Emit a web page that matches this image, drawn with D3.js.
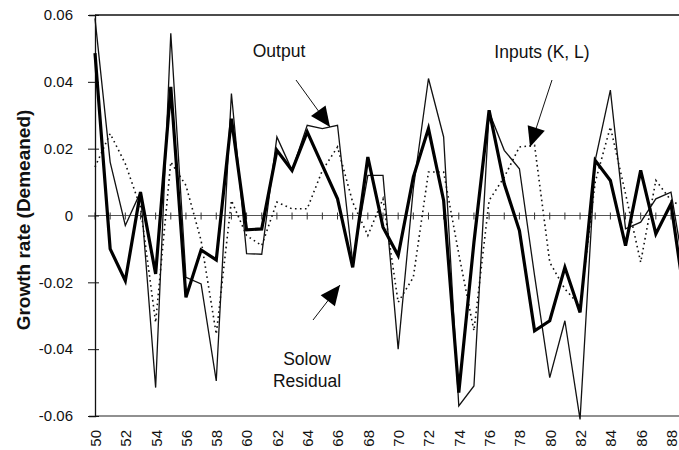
<!DOCTYPE html>
<html>
<head>
<meta charset="utf-8">
<script src="https://cdn.jsdelivr.net/npm/d3@7/dist/d3.min.js"></script>
<style>
  body { margin: 0; background: #fff; }
  svg { display: block; font-family: Arial, "Liberation Sans", Helvetica, sans-serif; }
  .lbl { font-size: 15px; fill: #111; }
  .note { font-size: 17.5px; fill: #111; }
</style>
</head>
<body>
<div id="chart"></div>
<script>
// data (years 1950-1989, demeaned growth rates)
const years = d3.range(50, 90);
const output = [0.059, 0.016, -0.003, 0.007, -0.0515, 0.0545, -0.0185, -0.0205, -0.0495, 0.0365,
                -0.0114, -0.0116, 0.0235, 0.0135, 0.027, 0.026, 0.027, -0.014, 0.012, 0.012,
                -0.040, 0.008, 0.041, 0.0235, -0.057, -0.051, 0.031, 0.0195, 0.014, -0.018,
                -0.0485, -0.0315, -0.061, 0.0165, 0.0375, -0.004, -0.002, 0.005, 0.007, -0.02];
const solow = [0.0486, -0.010, -0.0195, 0.007, -0.0175, 0.0385, -0.0245, -0.0103, -0.0133, 0.029,
               -0.0043, -0.004, 0.0195, 0.0135, 0.025, 0.015, 0.005, -0.0155, 0.0175, -0.0035,
               -0.012, 0.0115, 0.026, 0.0045, -0.053, -0.008, 0.0315, 0.0095, -0.0045, -0.0345,
               -0.0315, -0.0155, -0.029, 0.0165, 0.0105, -0.009, 0.0135, -0.0055, 0.0035, -0.028];
const inputs = [0.0145, 0.0245, 0.0155, 0.0025, -0.032, 0.016, 0.009, -0.0075, -0.0355, 0.0045,
                -0.006, -0.009, 0.004, 0.002, 0.002, 0.0135, 0.0205, 0.004, -0.006, 0.005,
                -0.026, -0.0185, 0.013, 0.013, -0.0115, -0.0345, 0.0045, 0.0115, 0.0205, 0.021,
                -0.014, -0.022, -0.027, 0.010, 0.0265, 0.0065, -0.014, 0.0105, 0.0045, 0.002];
const yTicks = [-0.06, -0.04, -0.02, 0, 0.02, 0.04, 0.06];
const xTicks = d3.range(50, 89, 2);

const w = 679, h = 450;
const padLeft = 95, padTop = 15, padBottom = 416;

const svg = d3.select("#chart").append("svg")
  .attr("width", w).attr("height", h);

const x = d3.scaleLinear().domain([50, 88]).range([padLeft, 671]);
const y = d3.scaleLinear().domain([-0.06, 0.06]).range([padBottom, padTop]);

// frame: top line, bottom line
svg.append("line").attr("x1", padLeft).attr("x2", w).attr("y1", padTop).attr("y2", padTop)
  .attr("stroke", "#111").attr("stroke-width", 1.4);
svg.append("line").attr("x1", padLeft).attr("x2", w).attr("y1", padBottom).attr("y2", padBottom)
  .attr("stroke", "#222").attr("stroke-width", 1.2);

// zero line with yearly ticks
svg.append("line").attr("x1", padLeft).attr("x2", w).attr("y1", y(0)).attr("y2", y(0))
  .attr("stroke", "#555").attr("stroke-width", 1);
svg.append("g").selectAll("line")
  .data(years)
  .join("line")
  .attr("x1", d => x(d)).attr("x2", d => x(d))
  .attr("y1", y(0) - 3).attr("y2", y(0) + 4)
  .attr("stroke", "#333").attr("stroke-width", 1);

// y-axis
const yAxis = d3.axisLeft(y).tickValues(yTicks)
  .tickFormat(d => d === 0 ? "0" : d.toFixed(2))
  .tickSize(6);
const gy = svg.append("g").attr("transform", "translate(" + padLeft + ",0)").call(yAxis);
gy.select(".domain").attr("stroke", "#111").attr("stroke-width", 1.3);
gy.selectAll(".tick line").attr("x1", 4).attr("x2", -7).attr("stroke", "#111");
gy.selectAll(".tick text").attr("x", -22).attr("class", "lbl")
  .style("font-family", "Arial, 'Liberation Sans', sans-serif");

// x-axis labels, rotated
const xAxis = d3.axisBottom(x).tickValues(xTicks).tickSize(0).tickFormat(d3.format("d"));
const gx = svg.append("g").attr("transform", "translate(0," + padBottom + ")").call(xAxis);
gx.select(".domain").remove();
gx.selectAll(".tick text")
  .attr("class", "lbl")
  .style("font-family", "Arial, 'Liberation Sans', sans-serif")
  .attr("transform", "rotate(-90)")
  .attr("text-anchor", "end")
  .attr("x", -14).attr("y", 0).attr("dy", "0.36em");

// y label
svg.append("text")
  .attr("transform", "translate(30,220) rotate(-90)")
  .attr("text-anchor", "middle")
  .style("font-size", "19px").style("font-weight", "bold").attr("fill", "#111")
  .text("Growth rate (Demeaned)");

// series lines
const line = d3.line().x((d, i) => x(years[i])).y(d => y(d));
svg.append("path").datum(inputs).attr("d", line)
  .attr("fill", "none").attr("stroke", "#111").attr("stroke-width", 1.6)
  .attr("stroke-dasharray", "1.6,3.4");
svg.append("path").datum(output).attr("d", line)
  .attr("fill", "none").attr("stroke", "#111").attr("stroke-width", 1.3)
  .attr("stroke-linejoin", "miter");
svg.append("path").datum(solow).attr("d", line)
  .attr("fill", "none").attr("stroke", "#000").attr("stroke-width", 3.2)
  .attr("stroke-linejoin", "miter");

// annotations: text lines and arrows (pixel positions)
const notes = [
  { lines: ["Output"], tx: 279, ty: 57, from: [296, 80], tip: [330, 127] },
  { lines: ["Inputs (K, L)"], tx: 542, ty: 58, from: [552, 80], tip: [530, 147] },
  { lines: ["Solow", "Residual"], tx: 307, ty: 365, from: [313, 320], tip: [340, 285] }
];
notes.forEach(n => {
  const t = svg.append("text").attr("class", "note").attr("text-anchor", "middle")
    .attr("x", n.tx).attr("y", n.ty);
  n.lines.forEach((s, i) => t.append("tspan").attr("x", n.tx).attr("dy", i ? 22 : 0).text(s));
  svg.append("line")
    .attr("x1", n.from[0]).attr("y1", n.from[1]).attr("x2", n.tip[0]).attr("y2", n.tip[1])
    .attr("stroke", "#111").attr("stroke-width", 1);
  const dx = n.tip[0] - n.from[0], dy = n.tip[1] - n.from[1];
  const len = Math.hypot(dx, dy), ux = dx / len, uy = dy / len;
  const bx = n.tip[0] - 20 * ux, by = n.tip[1] - 20 * uy;
  svg.append("path")
    .attr("d", "M" + n.tip[0] + "," + n.tip[1] +
               "L" + (bx - 9 * uy) + "," + (by + 9 * ux) +
               "L" + (bx + 9 * uy) + "," + (by - 9 * ux) + "Z")
    .attr("fill", "#000");
});
</script>
</body>
</html>
